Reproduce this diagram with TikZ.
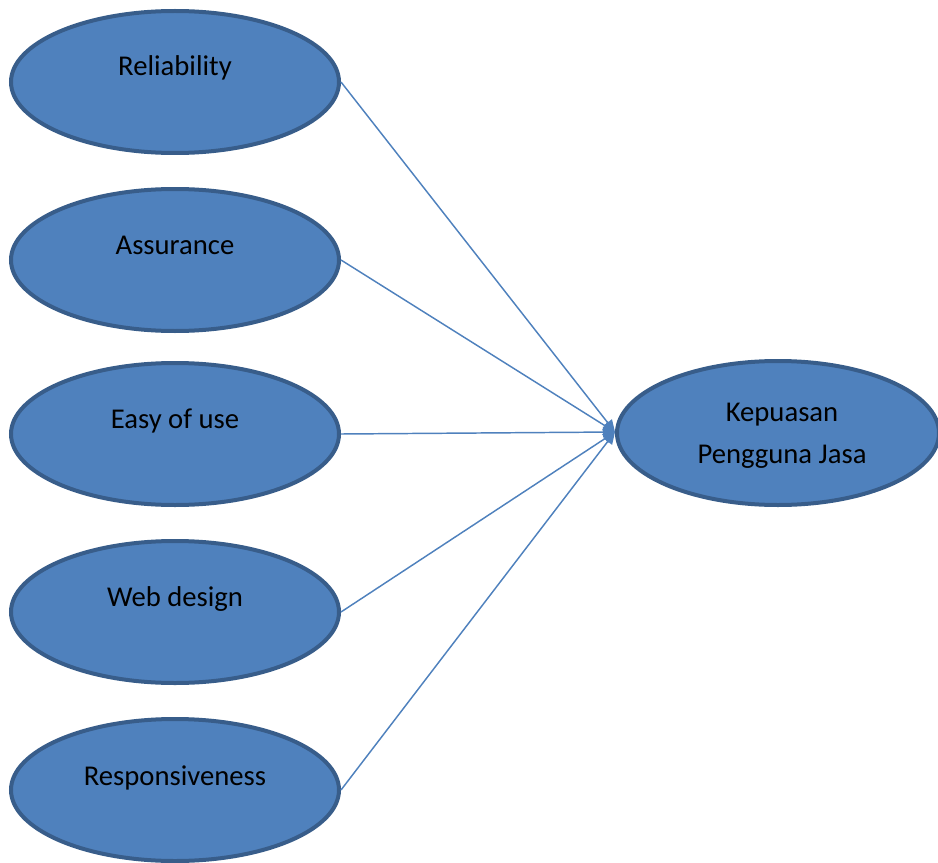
\documentclass[tikz,border=0pt]{standalone}
\usepackage{fontspec}
\setmainfont{Carlito}
\usetikzlibrary{shapes.geometric,arrows.meta}
\definecolor{fillblue}{HTML}{4F81BD}
\definecolor{edgeblue}{HTML}{385D8A}
\newlength{\unitpx}
\setlength{\unitpx}{0.75pt}
\tikzset{
  oval/.style={ellipse, draw=edgeblue, fill=fillblue, line width=3pt, minimum width=328\unitpx, minimum height=142\unitpx, inner sep=0pt},
  lbl/.style={font=\fontsize{21.5}{31.5}\selectfont, text=black, align=center, inner sep=0pt},
  link/.style={draw=fillblue, line width=1.1pt, -{Triangle[length=9pt,width=8pt]}}
}
\begin{document}
\begin{tikzpicture}[x=0.75pt,y=-0.75pt]
\useasboundingbox (0,0) rectangle (938,863);
\node[oval] (r) at (175,82) {};
\node[oval] (a) at (175,260) {};
\node[oval] (e) at (175,434) {};
\node[oval] (w) at (175,612) {};
\node[oval] (s) at (175,790) {};
\node[oval, minimum width=322\unitpx, minimum height=144\unitpx] (k) at (778,433) {};
\node[lbl] (rt) at (175,68) {Reliability};
\node[lbl] (at) at (175,245) {Assurance};
\node[lbl] (et) at (175,421) {Easy of use};
\node[lbl] (wt) at (175,599) {Web design};
\node[lbl] (st) at (175,778) {Responsiveness};
\node[lbl] (kt) at (782,436) {Kepuasan\\Pengguna Jasa};
\coordinate (tip) at (615,432);
\draw[link] (r.east) -- (tip);
\draw[link] (a.east) -- (tip);
\draw[link] (e.east) -- (tip);
\draw[link] (w.east) -- (tip);
\draw[link] (s.east) -- (tip);
\end{tikzpicture}
\end{document}
